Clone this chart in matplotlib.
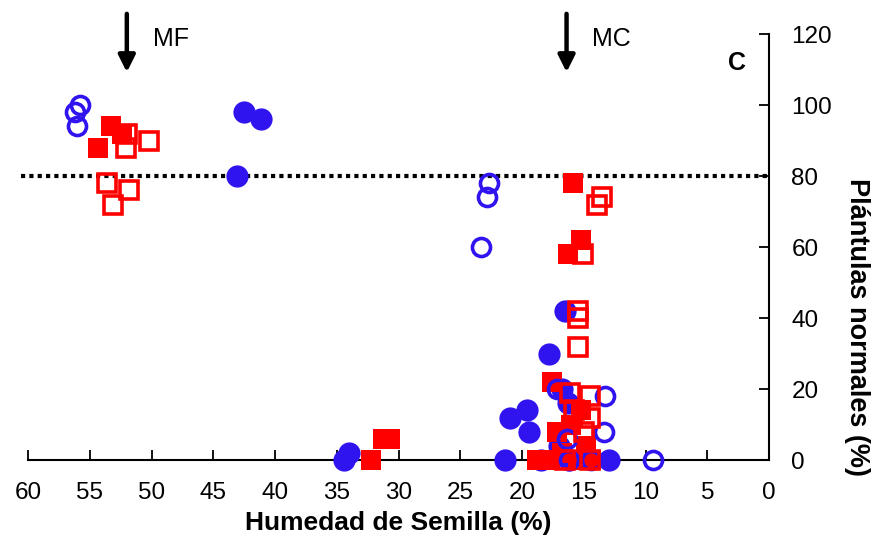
import numpy as np
import matplotlib
matplotlib.use('Agg')
import matplotlib.pyplot as plt

plt.rcParams['font.family'] = ['Liberation Sans', 'DejaVu Sans']

# humedad de semilla (%) y plántulas normales (%) por serie
blue_filled_x = [42.5, 41.1, 43.1, 34.4, 34.0, 21.4, 21.0, 19.6, 19.4, 17.8, 16.5, 16.8, 16.3, 17.0, 16.2, 13.0, 18.5]
blue_filled_y = [98, 96, 80, 0, 2, 0, 12, 14, 8, 30, 42, 20, 16, 4, 0, 0, 0]

red_filled_x = [53.3, 52.4, 54.3, 31.3, 30.7, 32.2, 15.9, 15.2, 16.3, 17.6, 17.2, 16.0, 15.2, 18.8, 17.7, 16.8, 15.5, 14.8, 14.4]
red_filled_y = [94, 92, 88, 6, 6, 0, 78, 62, 58, 22, 8, 10, 14, 0, 0, 2, 0, 4, 0]

blue_open_x = [55.8, 56.2, 56.0, 22.7, 22.8, 23.3, 13.3, 13.4, 16.4, 16.2, 14.4, 9.4, 17.2]
blue_open_y = [100, 98, 94, 78, 74, 60, 18, 8, 6, 0, 0, 0, 20]

red_open_x = [52.0, 52.1, 50.2, 53.6, 51.8, 53.1, 13.9, 13.5, 15.1, 15.5, 15.5, 15.5, 16.1, 14.5, 14.5, 15.0, 16.5, 14.5, 15.8]
red_open_y = [92, 88, 90, 78, 76, 72, 72, 74, 58, 42, 40, 32, 19, 18, 12, 8, 0, 0, 14]

x_ticks = list(range(0, 61, 5))
y_ticks = list(range(0, 121, 20))
threshold = 80
arrows = [(52, 'MF'), (16.4, 'MC')]

BLUE = '#3014F0'
RED = '#FF0000'

fig = plt.figure(figsize=(8.75, 5.42), dpi=100)
ax = fig.add_axes([0.032, 0.151, 0.847, 0.786])

ax.plot(blue_filled_x, blue_filled_y, 'o', ms=16, color=BLUE, mec=BLUE, mew=0, clip_on=False, zorder=3)
ax.plot(red_filled_x, red_filled_y, 's', ms=14.5, color=RED, mec=RED, mew=0, clip_on=False, zorder=4)
ax.plot(blue_open_x, blue_open_y, 'o', ms=13, mfc='none', mec=BLUE, mew=2.6, clip_on=False, zorder=5)
ax.plot(red_open_x, red_open_y, 's', ms=13, mfc='none', mec=RED, mew=2.6, clip_on=False, zorder=6)

ax.plot([60.6, 0], [threshold, threshold], color='black', lw=3,
        linestyle=(0, (1, 1)), dash_capstyle='butt', clip_on=False, zorder=2)

ax.set_xlim(60, 0)
ax.set_ylim(0, 120)
ax.set_xticks(x_ticks)
ax.set_yticks(y_ticks)

for side in ['top', 'left']:
    ax.spines[side].set_visible(False)
ax.spines['bottom'].set_linewidth(1.5)
ax.spines['right'].set_linewidth(1.5)
ax.yaxis.tick_right()
ax.yaxis.set_label_position('right')
ax.tick_params(axis='x', direction='in', length=7, width=1.3, labelsize=17.5, pad=16)
ax.tick_params(axis='y', direction='in', length=7, width=1.3, labelsize=17.5, pad=16)

ax.set_xlabel('Humedad de Semilla (%)', fontsize=19, fontweight='bold', labelpad=5)
fig.text(0.979, 0.397, 'Plántulas normales (%)', rotation=-90, fontsize=19.5,
         fontweight='bold', ha='center', va='center')

ax.text(2.6, 112, 'C', fontsize=18, fontweight='bold', ha='center', va='center')

for xa, label in arrows:
    ax.annotate('', xy=(xa, 108.5), xytext=(xa, 126.5),
                arrowprops=dict(arrowstyle='-|>,head_length=1.0,head_width=0.5',
                                color='black', lw=3.2),
                annotation_clip=False)
    ax.text(xa - 2.1, 118.5, label, fontsize=18, ha='left', va='center')

fig.savefig('out.png', dpi=100)
